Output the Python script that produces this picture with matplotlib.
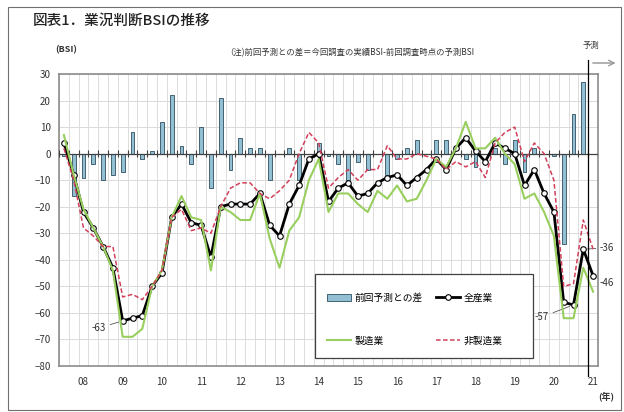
import numpy as np
import matplotlib
matplotlib.use("Agg")
import matplotlib.pyplot as plt
from matplotlib.lines import Line2D
from matplotlib.patches import Patch, Rectangle

plt.rcParams['font.family'] = ['Noto Sans CJK JP', 'DejaVu Sans']

# quarterly data, 55 points; year label sits on every 4th quarter starting at index 2
years = ["08", "09", "10", "11", "12", "13", "14", "15", "16", "17", "18", "19", "20", "21"]

diff = [-1, -16, -9, -4, -10, -8, -7, 8, -2, 1,
        12, 22, 3, -4, 10, -13, 21, -6, 6, 2,
        2, -10, 0, 2, -10, 0, 4, -1, -4, -10,
        -3, -6, 0, -8, -2, 2, 5, 0, 5, 5,
        0, -2, -5, 0, 2, -4, 5, -7, 2, 0,
        -1, -34, 15, 27, np.nan]

all_ind = [4, -8, -22, -28, -35, -43, -63, -62, -61, -50,
           -45, -24, -19, -26, -27, -39, -20, -19, -19, -19,
           -15, -27, -31, -19, -12, -2, 0, -18, -13, -11,
           -16, -15, -11, -9, -8, -12, -9, -6, -2, -6,
           2, 6, 1, -3, 4, 2, 0, -12, -6, -15,
           -22, -56, -57, -36, -46]

mfg = [7, -8, -21, -28, -35, -44, -69, -69, -66, -50,
       -44, -24, -16, -24, -25, -44, -20, -22, -25, -25,
       -15, -32, -43, -29, -24, -10, -2, -22, -15, -15,
       -19, -22, -14, -17, -12, -18, -17, -10, -2, -5,
       2, 12, 2, 2, 6, 0, -4, -17, -15, -22,
       -31, -62, -62, -43, -52]

nonmfg = [2, -10, -28, -31, -35, -35, -54, -53, -55, -50,
          -44, -24, -21, -29, -28, -30, -20, -13, -11, -11,
          -15, -17, -14, -10, 0, 8, 4, -13, -9, -6,
          -10, -6, -6, 3, -2, -2, 0, -1, -2, -6,
          -3, -5, -3, -9, 4, 8, 10, -3, 4, 0,
          -10, -50, -49, -25, -36]

W, H = 624, 412
fig = plt.figure(figsize=(W / 100, H / 100), dpi=100)
fig.patch.set_facecolor("white")

def fx(px):
    return px / W

def fy(py):
    return 1 - py / H

# axes box in pixels
L, R, T, B = 59, 598, 74, 366
ax = fig.add_axes([fx(L), fy(B), fx(R) - fx(L), fy(T) - fy(B)])
x = np.arange(len(all_ind))

def axx(px):
    return (px - L) / (R - L)

def axy(py):
    return (B - py) / (B - T)

# grid
for v in range(-80, 31, 10):
    ax.axhline(v, color="#d9d9d9", lw=0.7, zorder=0)
for b in np.arange(-0.5, len(x), 1.0):
    ax.axvline(b, color="#dcdcdc", lw=0.7, zorder=0)

# bars
bar_c = "#92bfd2"
bar_e = "#2e4e5e"
ax.bar(x, diff, width=0.38, color=bar_c, edgecolor=bar_e, lw=0.6, zorder=2)

# zero axis with category ticks
ax.axhline(0, color="#404040", lw=0.9, zorder=3)
ax.vlines(np.arange(-0.5, len(x), 1.0), -1.3, 1.3, color="#404040", lw=0.8, zorder=3)

# lines
green = "#98cf5e"
red = "#d2405a"
ax.plot(x, all_ind, color="black", lw=2.0, marker="o", ms=4, mfc="white",
        mec="black", mew=0.8, zorder=4)
ax.plot(x, mfg, color=green, lw=1.5, zorder=5)
ax.plot(x, nonmfg, color=red, lw=1.1, ls=(0, (3, 1.6)), zorder=6)

ax.set_xlim(-0.5, len(x) - 0.5)
ax.set_ylim(-80, 30)
ax.set_yticks(range(-80, 31, 10))
ax.set_xticks(np.arange(2, len(x), 4))
ax.set_xticklabels(years)
ax.tick_params(axis="both", length=0, labelsize=7, colors="#333333")
ax.tick_params(axis="x", pad=8)
ax.tick_params(axis="y", pad=6)
for s in ax.spines.values():
    s.set_color("#8c8c8c")
    s.set_linewidth(1.2)

# value annotations
ax.annotate("-63", xy=(6, -63), xytext=(4.3, -65.7), ha="right", va="center",
            fontsize=7, color="#333333",
            arrowprops=dict(arrowstyle="-", color="#555555", lw=0.6, shrinkA=1, shrinkB=3))
ax.annotate("-57", xy=(52, -57), xytext=(49.5, -61.5), ha="right", va="center",
            fontsize=7, color="#333333",
            arrowprops=dict(arrowstyle="-", color="#555555", lw=0.6, shrinkA=1, shrinkB=3))
ax.annotate("-36", xy=(53, -36), xytext=(54.7, -35.5), ha="left", va="center",
            fontsize=7, color="#333333", annotation_clip=False,
            arrowprops=dict(arrowstyle="-", color="#555555", lw=0.6, shrinkA=1, shrinkB=3))
ax.text(54.7, -48.7, "-46", ha="left", va="center", fontsize=7, color="#333333",
        clip_on=False)

# legend: frame drawn separately, entries row by row
ax.add_patch(Rectangle((axx(315), axy(358)), axx(533) - axx(315), axy(274) - axy(358),
                       transform=ax.transAxes, facecolor="white", edgecolor="#404040",
                       lw=0.9, zorder=9))
handles = [Patch(facecolor=bar_c, edgecolor=bar_e, lw=0.6),
           Line2D([], [], color=green, lw=1.5),
           Line2D([], [], color="black", lw=2.0, marker="o", ms=4, mfc="white", mew=0.8),
           Line2D([], [], color=red, lw=1.1, ls=(0, (3, 1.6)))]
labels = ["前回予測との差", "製造業", "全産業", "非製造業"]
leg = ax.legend(handles, labels, ncol=2, loc="upper left",
                bbox_to_anchor=(axx(319), axy(285)),
                fontsize=7, frameon=False, borderpad=0.3, labelspacing=3.4,
                columnspacing=1.3, handlelength=2.5, handletextpad=0.4)
leg.set_zorder(10)

# forecast divider
fig.add_artist(Line2D([fx(588), fx(588)], [fy(60), fy(376)], color="black", lw=0.9))
fig.add_artist(plt.annotate("", xy=(fx(618), fy(63)), xytext=(fx(590), fy(63)),
                            xycoords="figure fraction",
                            arrowprops=dict(arrowstyle="->", color="#999999", lw=0.7)))
fig.text(fx(591), fy(45), "予測", ha="center", va="center", fontsize=6, color="#333333")

# texts
fig.text(fx(33), fy(21), "図表1．業況判断BSIの推移", ha="left", va="center",
         fontsize=10.5, fontweight="medium", color="#222222")
fig.text(fx(55), fy(50), "(BSI)", ha="left", va="center", fontsize=6.5,
         fontweight="bold", color="#333333")
fig.text(fx(350), fy(53), "（注)前回予測との差＝今回調査の実績BSI-前回調査時点の予測BSI",
         ha="center", va="center", fontsize=6, color="#333333")
fig.text(fx(606), fy(396), "(年)", ha="center", va="center", fontsize=6.5,
         fontweight="bold", color="#333333")

# outer frame
fig.add_artist(Rectangle((fx(8), fy(410)), fx(621) - fx(8), fy(7) - fy(410),
                         fill=False, edgecolor="#707070", lw=0.8,
                         transform=fig.transFigure))

fig.savefig("out.png", dpi=100)
